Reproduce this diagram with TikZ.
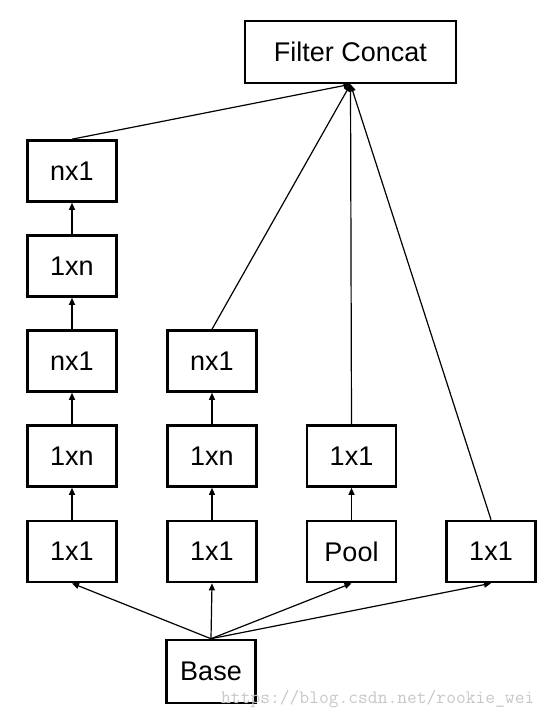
\documentclass[tikz,border=0pt]{standalone}
\usepackage{fontspec}
\setmainfont{Liberation Sans}
\usetikzlibrary{arrows.meta}
\begin{document}
\begin{tikzpicture}[x=1pt,y=-1pt,
  box/.style={draw, line width=2.6pt, minimum width=89pt, minimum height=61pt, inner sep=0pt,
    font=\fontsize{27}{30}\selectfont},
  arr/.style={line width=1.2pt, -{Triangle[length=7pt,width=6pt]}},
  ln/.style={line width=1.2pt}]
\useasboundingbox (0,0) rectangle (554,719);
\node[box, minimum width=211pt, minimum height=62pt] (fc) at (350.5,52) {Filter Concat};
% column 1
\node[box] (a5) at (72,171) {nx1};
\node[box] (a4) at (72,266) {1xn};
\node[box] (a3) at (72,361) {nx1};
\node[box] (a2) at (72,456) {1xn};
\node[box] (a1) at (72,551.5) {1x1};
% column 2
\node[box] (b3) at (212,361) {nx1};
\node[box] (b2) at (212,456) {1xn};
\node[box] (b1) at (212,551.5) {1x1};
% column 3
\node[box] (c2) at (351.5,456) {1x1};
\node[box] (c1) at (351.5,551.5) {Pool};
% column 4
\node[box] (d1) at (491,551.5) {1x1};
% base
\node[box, minimum height=63pt] (base) at (211,671.5) {Base};
% watermark
\node[anchor=base west, inner sep=0pt, text=black!22, font=\ttfamily\fontsize{19}{20}\selectfont] (wm) at (221,703) {https://blog.csdn.net/rookie\_wei};
% base arrows
\draw[arr] (base.north) -- (a1.south);
\draw[arr] (base.north) -- (b1.south);
\draw[arr] (base.north) -- (c1.south);
\draw[arr] (base.north) -- (d1.south);
% column arrows
\draw[arr] (a1) -- (a2);
\draw[arr] (a2) -- (a3);
\draw[arr] (a3) -- (a4);
\draw[arr] (a4) -- (a5);
\draw[arr] (b1) -- (b2);
\draw[arr] (b2) -- (b3);
\draw[arr] (c1) -- (c2);
% to concat
\draw[arr] (a5.north) -- (fc.south);
\draw[arr] (b3.north) -- (fc.south);
\draw[arr] (c2.north) -- (fc.south);
\draw[arr] (d1.north) -- (fc.south);
\end{tikzpicture}
\end{document}
